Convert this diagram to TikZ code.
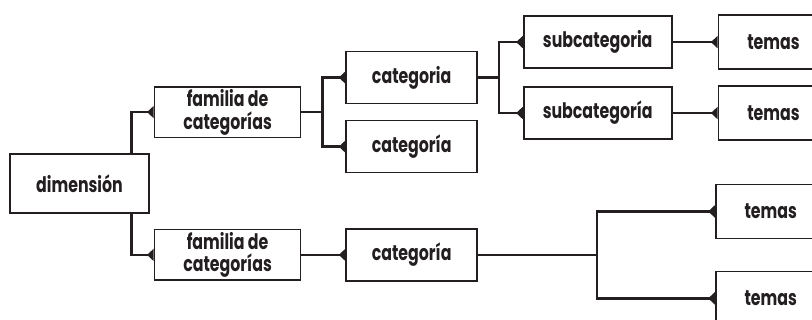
\documentclass[tikz,border=0pt]{standalone}
\usepackage{fontspec}
\newfontfamily\cajafont[FakeStretch=0.74]{Poppins}
\usepackage{tikz}
\usetikzlibrary{arrows.meta, positioning}
\definecolor{tinta}{HTML}{231F20}
\tikzstyle{caja} = [rectangle, 
draw=tinta, 
line width=1.3pt, 
minimum height=39pt, 
inner sep=0pt, 
text=tinta, 
text centered, 
font=\cajafont\bfseries\fontsize{16}{17}\selectfont]
\tikzstyle{enlace} = [line width=1.9pt, draw=tinta, -{Triangle[reversed, length=5pt, width=9pt]}]

\begin{document}
\begin{tikzpicture}[x=0.75pt, y=-0.75pt, node distance=33pt, align=center]

        \useasboundingbox (0,0) rectangle (812,320);
        \clip (0,0) rectangle (812,320);

        % Nodos
        \node (dim) [caja, minimum width=104pt, minimum height=44pt] at (79.5,183.5) {dimensión};
        \node (fam1) [caja, minimum width=109.5pt, minimum height=38pt, above right=11.25pt and 3pt of dim] {familia de\\categorías};
        \node (fam2) [caja, minimum width=109.5pt, minimum height=38pt, below right=11.25pt and 3pt of dim] {familia de\\categorías};
        \node (cat1) [caja, minimum width=98pt, right=of fam1, yshift=25.9pt] {categoria};
        \node (cat2) [caja, minimum width=98pt, right=of fam1, yshift=-25.9pt] {categoría};
        \node (cat3) [caja, minimum width=98pt, right=of fam2] {categoría};
        \node (sub1) [caja, minimum width=111pt, right=33.75pt of cat1, yshift=26.6pt] {subcategoria};
        \node (sub2) [caja, minimum width=111pt, right=33.75pt of cat1, yshift=-26.6pt] {subcategoría};
        \node (tem1) [caja, minimum width=82.5pt, minimum height=40.5pt, right=33.75pt of sub1] {temas};
        \node (tem2) [caja, minimum width=82.5pt, minimum height=40.5pt, right=33.75pt of sub2] {temas};
        \node (tem3) [caja, minimum width=82.5pt, minimum height=40.5pt, right=177.75pt of cat3, yshift=32.6pt] {temas};
        \node (tem4) [caja, minimum width=82.5pt, minimum height=40.5pt, right=177.75pt of cat3, yshift=-32.6pt] {temas};

        % Puntos de bifurcacion
        \coordinate (j1) at ([xshift=15.75pt]fam1.east);
        \coordinate (j2) at ([xshift=15.75pt]cat1.east);
        \coordinate (j3) at ([xshift=89.25pt]cat3.east);

        % Conexiones
        \draw [enlace] ([xshift=-13.5pt]dim.north east) |- (fam1.west);
        \draw [enlace] ([xshift=-13.5pt]dim.south east) |- (fam2.west);
        \draw [enlace] (fam1) -- (j1) |- (cat1.west);
        \draw [enlace] (j1) |- (cat2.west);
        \draw [enlace] (cat1) -- (j2) |- (sub1.west);
        \draw [enlace] (j2) |- (sub2.west);
        \draw [enlace] (sub1) -- (tem1);
        \draw [enlace] (sub2) -- (tem2);
        \draw [enlace] (fam2) -- (cat3);
        \draw [enlace] (cat3) -- (j3) |- (tem3.west);
        \draw [enlace] (j3) |- (tem4.west);

\end{tikzpicture}
\end{document}
